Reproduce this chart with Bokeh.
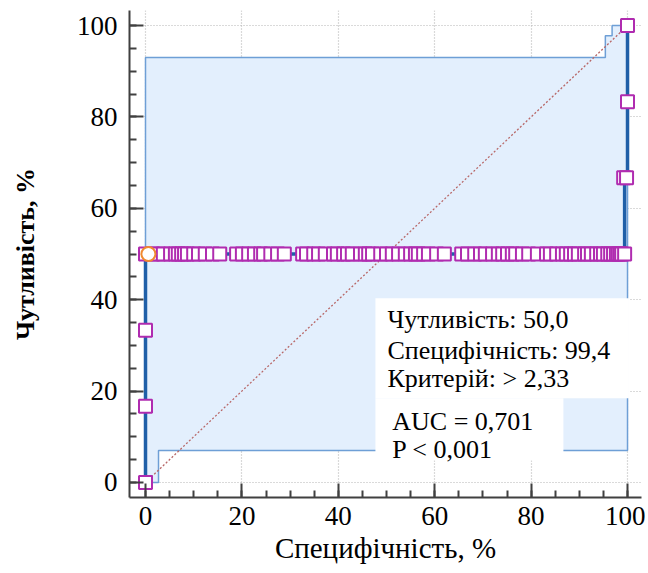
from bokeh.plotting import figure
from bokeh.models import Range1d, SingleIntervalTicker, BoxAnnotation, Label
from bokeh.embed import file_html
from bokeh.resources import INLINE

# ---- data ----
roc_x = [0, 0, 0.6, 99.4, 99.4, 100, 100]
roc_y = [0, 50, 50, 50, 66.7, 66.7, 100]

band_x = [0, 0, 95.4, 95.4, 96.8, 96.8, 100, 100, 2.7, 2.7, 0]
band_y = [0, 93, 93, 97.8, 97.8, 100, 100, 7, 7, 0, 0]

diag_x = [0, 100]
diag_y = [0, 100]

mid_x = [1.5, 2.7, 3.7, 5.2, 6.2, 6.8, 7.5, 8.1, 8.7, 10.0, 11.0, 12.4, 13.9, 15.4,
         18.9, 20.1, 21.4, 22.6, 23.9, 24.5, 26.0, 27.4, 28.8,
         32.6, 33.4, 34.9, 35.9, 37.3, 39.0, 39.8, 41.1, 41.9, 42.9, 44.6, 45.6, 46.3,
         47.1, 48.8, 50.0, 51.2, 52.5, 53.9, 55.0, 56.0, 56.6, 57.7, 58.7, 60.4, 62.0,
         65.6, 66.8, 68.3, 69.5, 70.5, 72.0, 73.2, 74.1, 75.1, 76.1, 76.8, 78.2, 79.5,
         81.3, 83.2, 84.0, 85.3, 86.5, 87.3, 88.2, 89.0, 89.8, 91.1, 91.7, 92.5, 93.6,
         94.4, 95.0, 95.9, 96.5, 97.1, 97.7, 98.1, 98.5, 98.8, 99.4]
mid_y = [50] * len(mid_x)

edge_x = [0, 0, 0, 0, 99.2, 99.8, 100, 100]
edge_y = [0, 16.7, 33.3, 50, 66.7, 66.7, 83.3, 100]

opt_x = [0.6]
opt_y = [50]

info_lines = ["Чутливість: 50,0", "Специфічність: 99,4", "Критерій: > 2,33"]
info_y = [35.7, 28.9, 22.8]
stat_lines = ["AUC = 0,701", "P < 0,001"]
stat_y = [13.3, 7.2]

FONT = "Liberation Serif"

p = figure(width=645, height=570, output_backend="svg", toolbar_location=None,
           x_range=Range1d(-3.32, 102.9), y_range=Range1d(-3.3, 103.3),
           min_border_left=129, min_border_right=4, min_border_top=10,
           min_border_bottom=73)
p.outline_line_color = None
p.background_fill_color = "white"

for ax in (p.xaxis[0], p.yaxis[0]):
    ax.ticker = SingleIntervalTicker(interval=20, num_minor_ticks=4)
    ax.major_tick_in = 14
    ax.major_tick_out = 0
    ax.minor_tick_in = 7
    ax.minor_tick_out = 0
    ax.axis_line_color = "#404040"
    ax.axis_line_width = 2
    ax.major_tick_line_color = "#404040"
    ax.major_tick_line_width = 2
    ax.minor_tick_line_color = "#404040"
    ax.minor_tick_line_width = 2
    ax.major_label_text_font = FONT
    ax.major_label_text_font_size = "27px"
    ax.major_label_text_color = "black"
    ax.axis_label_text_font = FONT
    ax.axis_label_text_font_size = "29px"
    ax.axis_label_text_font_style = "normal"
    ax.axis_label_text_color = "black"

p.xaxis.axis_label = "Специфічність, %"
p.yaxis.axis_label = "Чутливість, %"
p.xaxis.major_label_standoff = 9
p.xaxis.axis_label_standoff = 4
p.yaxis.major_label_standoff = 12
p.yaxis.axis_label_standoff = 34
p.yaxis.axis_label_text_font_style = "bold"
p.yaxis.axis_label_text_font_size = "26px"

for g in (p.xgrid[0], p.ygrid[0]):
    g.grid_line_color = "#b4b4b4"
    g.grid_line_dash = "1 2"
    g.grid_line_width = 1.2

# confidence band
p.patch(band_x, band_y, fill_color="#e3effd", line_color="#6e9fd6", line_width=1.5)
# diagonal
p.line(diag_x, diag_y, line_color="#b86868", line_dash="2 2", line_width=1.3)
# ROC curve
p.line(roc_x, roc_y, line_color="#1f5fa8", line_width=3.5)

# boxes
p.add_layout(BoxAnnotation(left=47.7, right=100.3, bottom=18.4, top=40.3,
                           fill_color="white", fill_alpha=1, line_color=None, level="glyph"))
p.add_layout(BoxAnnotation(left=47.7, right=86.7, bottom=4.8, top=18.4,
                           fill_color="white", fill_alpha=1, line_color=None, level="glyph"))

# points
p.scatter(mid_x, mid_y, marker="square", size=13, fill_color="white",
          line_color="#b02cb0", line_width=2)
p.scatter(edge_x, edge_y, marker="square", size=13, fill_color="white",
          line_color="#b02cb0", line_width=2)
p.scatter(opt_x, opt_y, marker="circle", size=14, fill_color="white",
          line_color="#f08a30", line_width=2)

for t, yy in zip(info_lines, info_y):
    p.add_layout(Label(x=50.2, y=yy, text=t, text_font=FONT, text_font_size="26px",
                       text_baseline="middle", text_color="black"))
for t, yy in zip(stat_lines, stat_y):
    p.add_layout(Label(x=51.2, y=yy, text=t, text_font=FONT, text_font_size="26px",
                       text_baseline="middle", text_color="black"))

open("out.html", "w").write(file_html(p, INLINE))
